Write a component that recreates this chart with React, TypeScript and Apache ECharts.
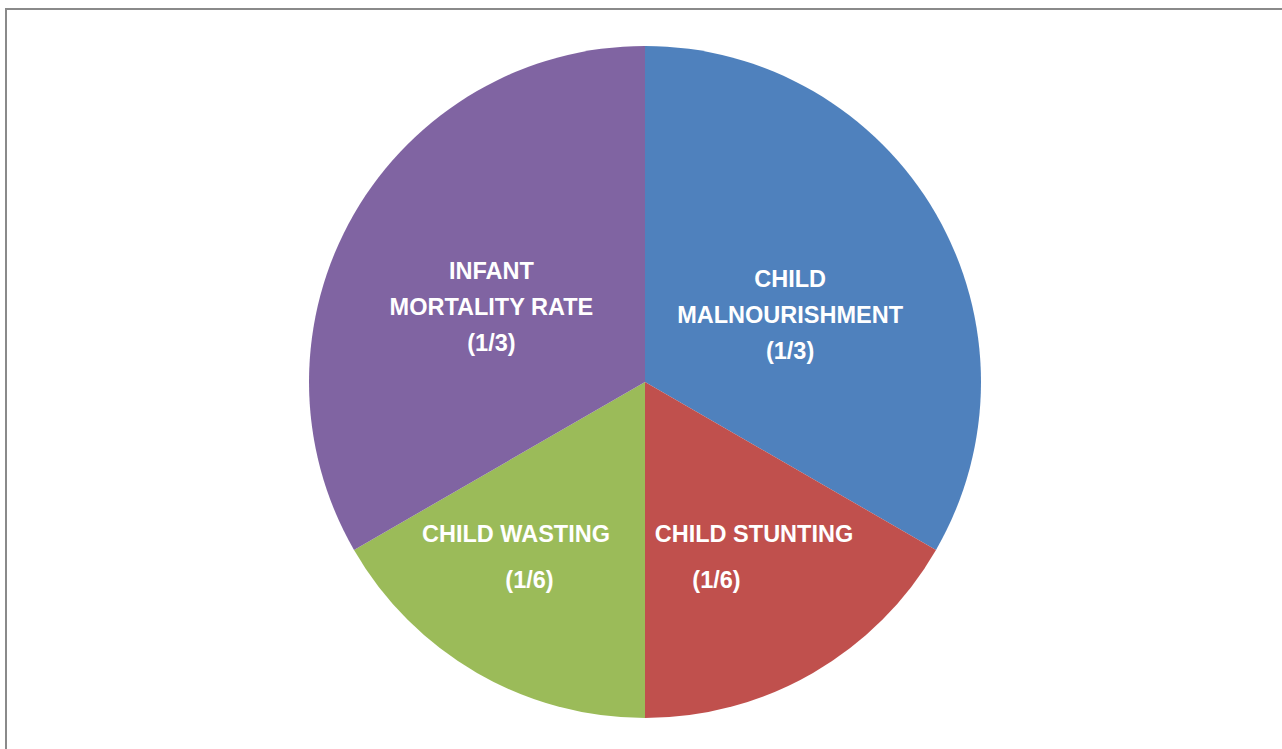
import React, { useEffect, useRef } from "react";
import * as echarts from "echarts";

// Data: shares expressed in sixths
const categories = ["CHILD MALNOURISHMENT", "CHILD STUNTING", "CHILD WASTING", "INFANT MORTALITY RATE"];
const values = [2, 1, 1, 2];
const shareLabels = ["(1/3)", "(1/6)", "(1/6)", "(1/3)"];
const nameLines: string[][] = [
  ["CHILD", "MALNOURISHMENT"],
  ["CHILD STUNTING"],
  ["CHILD WASTING"],
  ["INFANT", "MORTALITY RATE"],
];
const colors = ["#4F81BD", "#C0504D", "#9BBB59", "#8064A2"];

// label layout tweaks (style, not data)
const labelOffsets: [number, number][] = [
  [-3, 18.5],
  [23.5, 26.5],
  [-43.5, 27],
  [-5.5, 10],
];
const shareStyle = ["t", "s1", "s2", "t"];

const FONT = "'Liberation Sans', Arial, sans-serif";

export default function App() {
  const ref = useRef<HTMLDivElement>(null);
  useEffect(() => {
    if (!ref.current) return;
    const chart = echarts.init(ref.current, undefined, { renderer: "svg" });
    const baseText = { color: "#ffffff", fontFamily: FONT, fontWeight: "bold" as const, fontSize: 23.5 };
    chart.setOption({
      animation: false,
      backgroundColor: "#ffffff",
      graphic: [
        {
          type: "rect",
          z: -10,
          shape: { x: 6, y: 9, width: 1400, height: 900 },
          style: { fill: "none", stroke: "#8a8a8a", lineWidth: 2 },
        },
      ],
      series: [
        {
          type: "pie",
          center: [645, 382],
          radius: 336,
          startAngle: 90,
          clockwise: true,
          silent: true,
          itemStyle: { borderWidth: 0 },
          label: {
            show: true,
            position: "inside",
            formatter: (p: any) => {
              const i = p.dataIndex;
              const single = nameLines[i].length === 1;
              const nameStyle = single ? "h" : "t";
              const parts = nameLines[i].map((l) => `{${nameStyle}|${l}}`);
              parts.push(`{${shareStyle[i]}|${shareLabels[i]}}`);
              return parts.join("\n");
            },
            rich: {
              t: { ...baseText, lineHeight: 36 },
              h: { ...baseText, lineHeight: 46 },
              s1: { ...baseText, lineHeight: 46, padding: [0, 75, 0, 0] },
              s2: { ...baseText, lineHeight: 46, padding: [0, 0, 0, 27] },
            },
          },
          labelLine: { show: false },
          labelLayout: (params: any) => ({
            dx: labelOffsets[params.dataIndex][0],
            dy: labelOffsets[params.dataIndex][1],
          }),
          data: categories.map((name, i) => ({
            name,
            value: values[i],
            itemStyle: { color: colors[i] },
          })),
        },
      ],
    });
    return () => chart.dispose();
  }, []);
  return (
    <div
      ref={ref}
      style={{ position: "fixed", left: 0, top: 0, width: 1282, height: 749, background: "#fff" }}
    />
  );
}
